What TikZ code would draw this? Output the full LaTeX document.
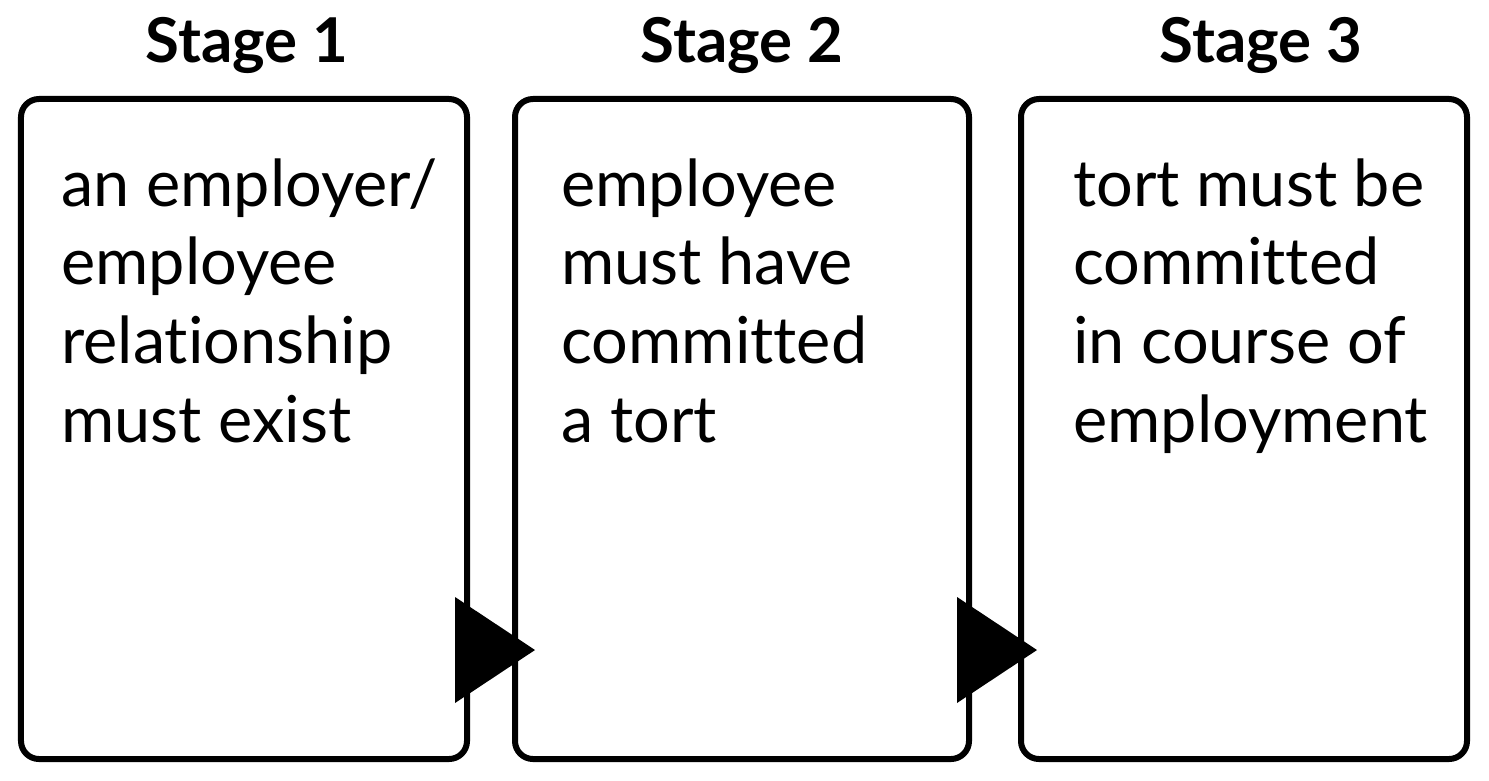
\documentclass[tikz,border=0pt]{standalone}
\usepackage{fontspec}
\setmainfont{Lato}[Ligatures={NoCommon,NoRare}]
\usetikzlibrary{calc}

\tikzset{
  stagebox/.style={draw,line width=3bp,rounded corners=9bp,minimum height=330bp,inner sep=0pt},
  stagetitle/.style={font=\fontsize{31}{37}\selectfont\bfseries,anchor=base,inner sep=0pt},
  stagetext/.style={font=\fontsize{32.5}{39.5}\selectfont,align=left,anchor=north west,inner sep=0pt},
}

\begin{document}
\begin{tikzpicture}[x=0.5bp,y=-0.5bp]
\useasboundingbox (0,0) rectangle (1489,780);
% boxes
\node[stagebox,minimum width=223bp] (b1) at (244,429) {};
\node[stagebox,minimum width=227bp] (b2) at (742,429) {};
\node[stagebox,minimum width=223bp] (b3) at (1244,429) {};
% titles
\node[stagetitle] (h1) at (247,62) {Stage 1};
\node[stagetitle] (h2) at (742,62) {Stage 2};
\node[stagetitle] (h3) at (1261,62) {Stage 3};
% texts
\node[stagetext] (t1) at ([shift={(21.5bp,-31bp)}]b1.north west) {an employer/\\employee\\relationship\\must exist};
\node[stagetext] (t2) at ([shift={(24.5bp,-31bp)}]b2.north west) {employee\\must have\\committed\\a tort};
\node[stagetext] (t3) at ([shift={(27.5bp,-31bp)}]b3.north west) {tort must be\\committed\\in course of\\employment};
% arrows between stages
\foreach \a in {b1,b2}
  \fill ([shift={(-7.5bp,-84bp)}]\a.east) -- ([shift={(-7.5bp,-137bp)}]\a.east)
     -- ([shift={(32.5bp,-110.5bp)}]\a.east) -- cycle;
\end{tikzpicture}
\end{document}
